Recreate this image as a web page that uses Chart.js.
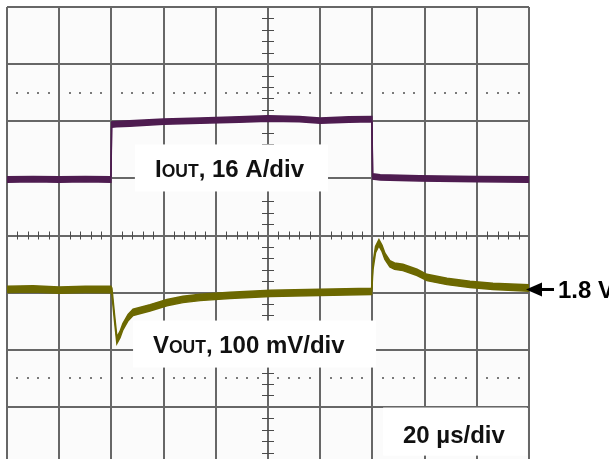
<!DOCTYPE html>
<html>
<head>
<meta charset="utf-8">
<script src="https://cdn.jsdelivr.net/npm/chart.js@4"></script>
<style>
  html, body { margin: 0; padding: 0; background: #fff; overflow: hidden; }
  canvas { display: block; }
</style>
</head>
<body>
<canvas id="scope" width="609" height="470"></canvas>
<script>
// Load-transient capture: 20 µs/div horizontally, 10 divisions.
const ioutTime = [0, 10, 20, 30, 39.8, 40.1, 42, 47, 60, 74, 89, 100, 112, 120, 131, 139.8, 140.1, 143, 158, 180, 200];
const ioutAmps = [0, 0.1, 0, 0.1, 0, 15.4, 15.5, 15.7, 16.2, 16.5, 16.8, 17.1, 16.9, 16.5, 16.8, 16.9, 0.85, 0.6, 0.3, 0.1, 0];

// Output voltage deviation from the 1.8 V level, in mV.
const voutTime = [0, 10, 20, 30, 39.8, 40.2, 41.2, 42.1, 43.3, 44.4, 46.4, 48.3, 54.8, 61.3, 67.4, 74, 85.4, 100.8, 119.9, 139.7,
                  140.2, 141.2, 142.5, 143.7, 144.8, 146.7, 148.5, 151.7, 157.1, 160.9, 168.6, 177.4, 186.2, 200];
const voutMv   = [0, 1, -1, 0, 0, -3.5, -50, -89, -79, -65, -49, -40, -32, -23, -17.5, -14, -10.5, -7, -5, -3.5,
                  40, 70, 82, 72, 58, 45, 41, 38.5, 30, 21, 14, 8.8, 5.3, 2.6];

// Scope channel settings
const US_PER_DIV = 20;
const AMPS_PER_DIV = 16;
const MV_PER_DIV = 100;
const HALF_DIVS = 4;          // graticule spans ±4 divisions vertically
const IOUT_ZERO_DIV = 0.98;   // channel offset of the current trace
const VOUT_REF_DIV = -0.945;  // 1.8 V reference position

// Half-height of the noise band each trace is drawn with
const IOUT_NOISE_A = 0.75;
const VOUT_NOISE_MV = 5.5;

const IOUT_LABEL = ['I', 'OUT', ', 16 A/div'];
const VOUT_LABEL = ['V', 'OUT', ', 100 mV/div'];
const TIME_LABEL = '20 µs/div';
const REF_LABEL = '1.8 V';

const IOUT_COLOR = 'rgb(78,28,80)';
const VOUT_COLOR = 'rgb(108,104,0)';
const GRID = '#676767';
const FONT = "'Liberation Sans', Arial, sans-serif";

function band(xs, ys, off) { return xs.map((x, i) => ({ x: x, y: ys[i] + off })); }

// Light panel behind the graticule
const panelBg = {
  id: 'panelBg',
  beforeDraw(chart) {
    const a = chart.chartArea, c = chart.ctx;
    c.save();
    c.fillStyle = '#fbfbfb';
    c.fillRect(a.left, a.top, a.right - a.left, a.bottom - a.top);
    c.restore();
  }
};

function drawLabel(c, parts, x, y, size) {
  let cx = x;
  parts.forEach((p, i) => {
    c.font = 'bold ' + (i === 1 ? size * 0.73 : size) + 'px ' + FONT;
    c.fillText(p, cx, y);
    cx += c.measureText(p).width;
  });
}

// Minor ticks on the centre cross, dotted rows and the boxed annotations
const graticule = {
  id: 'graticule',
  beforeDatasetsDraw(chart) {
    const c = chart.ctx, xs = chart.scales.x, gs = chart.scales.g;
    const cy = gs.getPixelForValue(0), cx = xs.getPixelForValue(100);
    c.save();
    c.strokeStyle = '#4a4a4a';
    c.lineWidth = 1;
    c.beginPath();
    for (let k = 0; k <= 50; k++) {
      if (k % 5 === 0) continue;
      const px = Math.round(xs.getPixelForValue(k * US_PER_DIV / 5)) + 0.5;
      c.moveTo(px, cy - 4); c.lineTo(px, cy + 4);
    }
    for (let k = -HALF_DIVS * 5; k <= HALF_DIVS * 5; k++) {
      if (k % 5 === 0) continue;
      const py = Math.round(gs.getPixelForValue(k / 5)) + 0.5;
      c.moveTo(cx - 6, py); c.lineTo(cx + 6, py);
    }
    c.stroke();

    c.fillStyle = '#7a7a7a';
    [2.5, -2.5].forEach(d => {
      const py = gs.getPixelForValue(d);
      for (let k = 0; k <= 50; k++) {
        if (k % 5 === 0) continue;
        const px = xs.getPixelForValue(k * US_PER_DIV / 5);
        c.fillRect(Math.round(px) - 1, Math.round(py) - 1, 2, 2);
      }
    });

    const box = (t0, t1, g0, g1) => {
      const x0 = xs.getPixelForValue(t0), x1 = xs.getPixelForValue(t1);
      const y0 = gs.getPixelForValue(g0), y1 = gs.getPixelForValue(g1);
      c.fillStyle = '#ffffff';
      c.fillRect(x0, y0, x1 - x0, y1 - y0);
    };
    box(49.0, 123.0, 1.594, 0.771);
    box(48.3, 141.4, -1.489, -2.312);
    box(144.1, 199.2, -3.012, -3.853);

    c.fillStyle = '#111';
    c.textBaseline = 'alphabetic';
    drawLabel(c, IOUT_LABEL, xs.getPixelForValue(56.7), gs.getPixelForValue(1.016), 24);
    drawLabel(c, VOUT_LABEL, xs.getPixelForValue(55.9), gs.getPixelForValue(-2.049), 24);
    c.font = 'bold 24px ' + FONT;
    c.fillText(TIME_LABEL, xs.getPixelForValue(151.7), gs.getPixelForValue(-3.625));
    c.restore();
  }
};

// Reference marker for the 1.8 V level at the right edge
const refMarker = {
  id: 'refMarker',
  afterDraw(chart) {
    const c = chart.ctx, a = chart.chartArea;
    const y = chart.scales.vout.getPixelForValue(0);
    const tip = a.right - 3;
    c.save();
    c.fillStyle = '#000';
    c.beginPath();
    c.moveTo(tip, y);
    c.lineTo(tip + 16, y - 7);
    c.lineTo(tip + 16, y + 7);
    c.closePath();
    c.fill();
    c.fillRect(tip + 15, y - 1.5, 13, 3);
    c.font = 'bold 24px ' + FONT;
    c.textBaseline = 'alphabetic';
    c.fillText(REF_LABEL, tip + 32, y + 8.5);
    c.restore();
  }
};

function traceEdge(label, pts, axis, color, fill) {
  return {
    label: label,
    data: pts,
    yAxisID: axis,
    showLine: true,
    borderColor: color,
    backgroundColor: color,
    borderWidth: 1.5,
    pointRadius: 0,
    tension: 0,
    fill: fill
  };
}

new Chart(document.getElementById('scope'), {
  type: 'scatter',
  data: {
    datasets: [
      traceEdge('IOUT', band(ioutTime, ioutAmps, IOUT_NOISE_A), 'iout', IOUT_COLOR, '+1'),
      traceEdge('IOUT low', band(ioutTime, ioutAmps, -IOUT_NOISE_A), 'iout', IOUT_COLOR, false),
      traceEdge('VOUT', band(voutTime, voutMv, VOUT_NOISE_MV), 'vout', VOUT_COLOR, '+1'),
      traceEdge('VOUT low', band(voutTime, voutMv, -VOUT_NOISE_MV), 'vout', VOUT_COLOR, false)
    ]
  },
  options: {
    responsive: false,
    animation: false,
    devicePixelRatio: 1,
    layout: { padding: { left: 7, top: 7, right: 80, bottom: 6 } },
    plugins: { legend: { display: false }, tooltip: { enabled: false } },
    scales: {
      x: {
        type: 'linear', min: 0, max: 10 * US_PER_DIV,
        ticks: { display: false, stepSize: US_PER_DIV },
        grid: { color: GRID, lineWidth: 2, drawTicks: false },
        border: { display: false }
      },
      g: {
        type: 'linear', position: 'left', min: -HALF_DIVS, max: HALF_DIVS,
        ticks: { display: false, stepSize: 1 },
        grid: { color: GRID, lineWidth: 2, drawTicks: false },
        border: { display: false }
      },
      iout: {
        type: 'linear', display: false,
        min: (-HALF_DIVS - IOUT_ZERO_DIV) * AMPS_PER_DIV,
        max: (HALF_DIVS - IOUT_ZERO_DIV) * AMPS_PER_DIV
      },
      vout: {
        type: 'linear', display: false,
        min: (-HALF_DIVS - VOUT_REF_DIV) * MV_PER_DIV,
        max: (HALF_DIVS - VOUT_REF_DIV) * MV_PER_DIV
      }
    }
  },
  plugins: [panelBg, graticule, refMarker]
});
</script>
</body>
</html>
